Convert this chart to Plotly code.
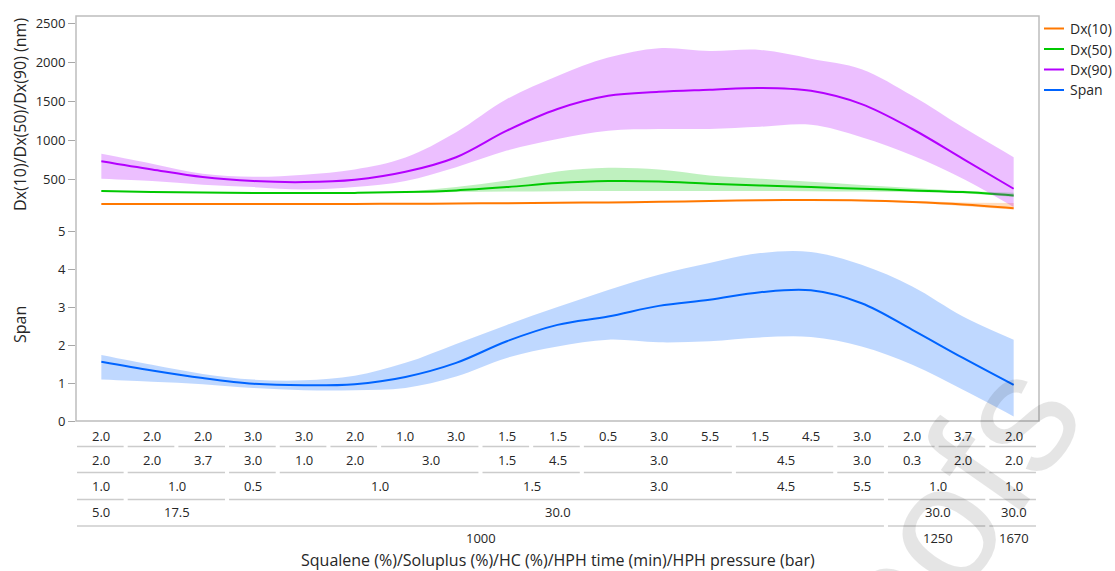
import plotly.graph_objects as go

# Formulation factors, one entry per batch (innermost level first)
squalene = ["2.0", "2.0", "2.0", "3.0", "3.0", "2.0", "1.0", "3.0", "1.5", "1.5",
            "0.5", "3.0", "5.5", "1.5", "4.5", "3.0", "2.0", "3.7", "2.0"]
soluplus = ["2.0", "2.0", "3.7", "3.0", "1.0", "2.0", "3.0", "3.0", "1.5", "4.5",
            "3.0", "3.0", "3.0", "4.5", "4.5", "3.0", "0.3", "2.0", "2.0"]
hc_pct = ["1.0", "1.0", "1.0", "0.5", "1.0", "1.0", "1.0", "1.0", "1.5", "1.5",
          "3.0", "3.0", "3.0", "4.5", "4.5", "5.5", "1.0", "1.0", "1.0"]
hph_time = ["5.0", "17.5", "17.5", "30.0", "30.0", "30.0", "30.0", "30.0", "30.0", "30.0",
            "30.0", "30.0", "30.0", "30.0", "30.0", "30.0", "30.0", "30.0", "30.0"]
hph_pressure = ["1000"] * 16 + ["1250", "1250", "1670"]

# Particle size percentiles (nm): mean with lower/upper band
dx10 = [185, 185, 185, 185, 186, 187, 189, 192, 196, 201, 206, 214, 224, 233, 237, 232, 212, 180, 132]
dx10_lo = [180, 180, 180, 180, 181, 182, 184, 187, 191, 196, 200, 208, 218, 227, 231, 225, 202, 160, 115]
dx10_hi = [190, 190, 190, 190, 191, 192, 194, 197, 201, 206, 212, 220, 230, 239, 243, 239, 224, 205, 200]

dx50 = [351, 340, 333, 328, 326, 328, 338, 360, 402, 453, 479, 474, 445, 423, 402, 381, 360, 338, 296]
dx50_lo = [342, 335, 328, 323, 321, 323, 330, 340, 345, 350, 352, 352, 352, 352, 350, 345, 340, 322, 275]
dx50_hi = [360, 345, 338, 333, 331, 335, 345, 402, 487, 602, 649, 627, 551, 509, 470, 430, 390, 355, 330]

dx90 = [733, 627, 530, 479, 466, 496, 598, 785, 1125, 1402, 1571, 1622, 1648, 1672, 1635, 1465, 1146, 764, 381]
dx90_lo = [509, 479, 432, 402, 372, 402, 480, 657, 870, 1019, 1125, 1146, 1146, 1175, 1199, 1040, 806, 509, 147]
dx90_hi = [828, 700, 572, 534, 560, 627, 780, 1104, 1529, 1826, 2060, 2180, 2145, 2158, 2047, 1912, 1571, 1167, 785]

span = [1.56, 1.33, 1.13, 0.98, 0.94, 0.97, 1.16, 1.53, 2.10, 2.53, 2.75, 3.03, 3.19, 3.39, 3.44, 3.10, 2.40, 1.66, 0.95]
span_lo = [1.09, 1.03, 0.97, 0.87, 0.81, 0.81, 0.87, 1.17, 1.66, 1.96, 2.14, 2.07, 2.10, 2.20, 2.21, 1.96, 1.48, 0.82, 0.12]
span_hi = [1.74, 1.48, 1.24, 1.09, 1.07, 1.19, 1.53, 2.03, 2.53, 3.00, 3.45, 3.85, 4.16, 4.42, 4.45, 4.11, 3.54, 2.75, 2.14]

size_ticks = [500, 1000, 1500, 2000, 2500]
span_ticks = [0, 1, 2, 3, 4, 5]

FONT = "Open Sans"
TXT = "#262626"
FRAME = "#bdbdbd"

# Figure geometry (pixels)
W, H = 1115, 571
ML, MR, MT, MB = 76, 76, 16, 150
PW, PH = W - ML - MR, H - MT - MB


def py(y_px):
    """Pixel row -> paper y."""
    return (H - MB - y_px) / PH


def px(x_px):
    """Pixel column -> paper x."""
    return (x_px - ML) / PW


n = len(squalene)
xs = list(range(n))

series = [
    ("Dx(10)", dx10, dx10_lo, dx10_hi, "#ff7800", "rgba(255,120,0,0.25)", "y2"),
    ("Dx(50)", dx50, dx50_lo, dx50_hi, "#00c800", "rgba(0,200,0,0.25)", "y2"),
    ("Dx(90)", dx90, dx90_lo, dx90_hi, "#b400ff", "rgba(180,0,255,0.25)", "y2"),
    ("Span", span, span_lo, span_hi, "#0064ff", "rgba(0,100,255,0.25)", "y"),
]

fig = go.Figure()
for name, mid, lo, hi, color, band, yax in series:
    fig.add_trace(go.Scatter(x=xs, y=lo, yaxis=yax, mode="lines",
                             line=dict(width=0, shape="spline", color=band),
                             showlegend=False, hoverinfo="skip"))
    fig.add_trace(go.Scatter(x=xs, y=hi, yaxis=yax, mode="lines", fill="tonexty",
                             fillcolor=band, line=dict(width=0, shape="spline", color=band),
                             showlegend=False, hoverinfo="skip"))
    fig.add_trace(go.Scatter(x=xs, y=mid, yaxis=yax, mode="lines", name=name,
                             line=dict(width=2, shape="spline", color=color),
                             showlegend=False))

shapes = []
annotations = []

# Plot frame
shapes.append(dict(type="rect", xref="paper", yref="paper", x0=0, x1=1, y0=0, y1=1,
                   line=dict(color=FRAME, width=1.5), layer="above"))

# Nested category axis: one label row per factor, outermost at the bottom
levels = [squalene, soluplus, hc_pct, hph_time, hph_pressure]
row_y = [435.5, 459.5, 485.5, 512, 538]
sep_y = [None, 446.5, 472.5, 499.5, 526]


def groups(k):
    keys = list(zip(*levels[k:]))
    out, start = [], 0
    for i in range(1, n + 1):
        if i == n or keys[i] != keys[start]:
            out.append((start, i - 1, levels[k][start]))
            start = i
    return out


for k in range(len(levels)):
    for a, b, label in groups(k):
        annotations.append(dict(x=(a + b) / 2, y=py(row_y[k]), xref="x", yref="paper",
                                text=label, showarrow=False, xanchor="center", yanchor="middle",
                                font=dict(family=FONT, size=13, color=TXT)))
        if sep_y[k] is not None:
            shapes.append(dict(type="line", xref="x", yref="paper",
                               x0=a - 0.5 + 0.02, x1=b + 0.5 - 0.06,
                               y0=py(sep_y[k]), y1=py(sep_y[k]),
                               line=dict(color="#cccccc", width=1.5)))

annotations.append(dict(x=0.5, y=py(560), xref="paper", yref="paper",
                        text="Squalene (%)/Soluplus (%)/HC (%)/HPH time (min)/HPH pressure (bar)",
                        showarrow=False, xanchor="center", yanchor="middle",
                        font=dict(family=FONT, size=16, color=TXT)))

# Axis titles
annotations.append(dict(x=px(20), y=py(115), xref="paper", yref="paper",
                        text="Dx(10)/Dx(50)/Dx(90) (nm)", textangle=-90, showarrow=False,
                        xanchor="center", yanchor="middle",
                        font=dict(family=FONT, size=16, color=TXT)))
annotations.append(dict(x=px(20), y=py(325), xref="paper", yref="paper",
                        text="Span", textangle=-90, showarrow=False,
                        xanchor="center", yanchor="middle",
                        font=dict(family=FONT, size=16, color=TXT)))

# Legend
leg_y = [28.5, 49, 69.5, 90]
for (name, _, _, _, color, _, _), ly in zip(series, leg_y):
    shapes.append(dict(type="line", xref="paper", yref="paper", x0=px(1044), x1=px(1064),
                       y0=py(ly), y1=py(ly), line=dict(color=color, width=2)))
    annotations.append(dict(x=px(1068), y=py(ly), xref="paper", yref="paper", text=name,
                            showarrow=False, xanchor="left", yanchor="middle",
                            font=dict(family=FONT, size=14, color=TXT)))

# Proof watermark
annotations.append(dict(x=px(905), y=py(575), xref="paper", yref="paper", text="proofs",
                        textangle=-55, showarrow=False, xanchor="center", yanchor="middle",
                        font=dict(family="Liberation Sans", size=170, color="rgba(0,0,0,0.1)")))

axis_common = dict(showgrid=False, zeroline=False, showline=False, ticks="outside",
                   ticklen=7, tickwidth=1, tickcolor="#a8a8a8",
                   tickfont=dict(family=FONT, size=13, color=TXT))

fig.update_layout(
    width=W, height=H,
    margin=dict(l=ML, r=MR, t=MT, b=MB),
    paper_bgcolor="white", plot_bgcolor="white",
    showlegend=False,
    xaxis=dict(range=[-0.5, n - 0.5], showgrid=False, zeroline=False, showline=False,
               showticklabels=False, ticks="", anchor="y"),
    yaxis=dict(domain=[0, 0.5], range=[0, 5.33], tickvals=span_ticks, anchor="x", **axis_common),
    yaxis2=dict(domain=[0.5, 1], range=[0, 2593], tickvals=size_ticks, anchor="x", **axis_common),
    shapes=shapes,
    annotations=annotations,
)

fig.write_html("out.html")
